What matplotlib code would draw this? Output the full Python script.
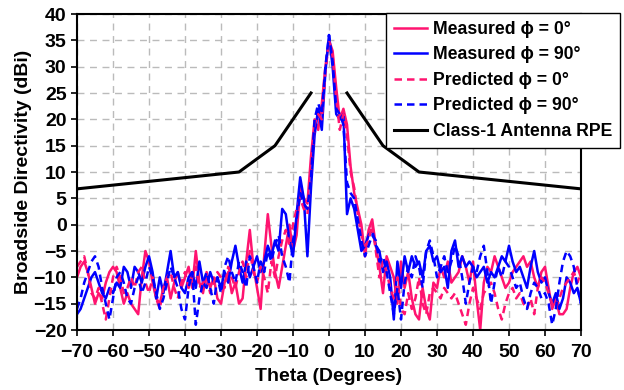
import numpy as np
import matplotlib
matplotlib.use("Agg")
import matplotlib.pyplot as plt

plt.rcParams['font.family'] = ['Liberation Sans', 'DejaVu Sans']
plt.rcParams['font.weight'] = 'bold'

# theta in degrees, 1 degree steps
theta = np.arange(-70, 71, 1)

meas_0 = [
    -10, -8, -7, -9, -12, -15, -13, -14, -11, -9,
    -8, -9, -12, -15, -13, -15, -16, -17, -10, -5,
    -7, -11, -14, -15, -12, -10, -14, -11, -9, -12,
    -10, -8, -12, -5, -11, -13, -9, -12, -10, -14,
    -15, -11, -9, -13, -11, -15, -14, -7, -1, -8,
    -12, -16, -6, 2, -4, -9, -12, -8, -4, 0,
    -5, -2, 7, 5, 4, 13, 20, 18, 23, 30,
    35, 33, 26, 20, 22, 19, 11, 6, 3, 0,
    -6, -1, 1, -4, -8, -13, -6, -8, -10, -15,
    -7, -12, -9, -14, -17, -18, -12, -16, -18, -11,
    -12, -8, -10, -7, -11, -10, -9, -6, -8, -11,
    -7, -14, -20, -11, -8, -9, -6, -8, -10, -12,
    -11, -9, -8, -7, -6, -8, -7, -10, -12, -9,
    -8, -12, -16, -14, -17, -17, -16, -12, -9, -8,
    -10]

meas_90 = [
    -17, -16, -14, -12, -10, -9, -11, -13, -14, -12,
    -13, -11, -12, -8, -9, -12, -8, -9, -11, -8,
    -6, -9, -14, -10, -13, -9, -5, -10, -9, -12,
    -13, -10, -9, -12, -7, -11, -12, -9, -11, -10,
    -12, -9, -11, -7, -4, -8, -11, -7, -10, -8,
    -6, -9, -7, -4, -6, -3, -5, 3, 2, -3,
    -6, 2, 9, 5, -6, 7, 17, 22, 18, 29,
    36, 30, 21, 20, 21, 2, 5, 3, -1, -5,
    -4, -2, -1, -4, -5, -9, -7, -10, -18, -7,
    -12, -6, -9, -6, -8, -7, -10, -5, -4, -7,
    -6, -9, -8, -12, -5, -3, -8, -6, -8, -7,
    -8, -10, -9, -8, -11, -9, -10, -8, -6, -7,
    -4, -7, -9, -8, -10, -12, -8, -5, -9, -11,
    -10, -13, -15, -13, -16, -14, -10, -11, -13, -12,
    -15]

pred_0 = [
    -8, -7, -6, -9, -13, -14, -12, -15, -18, -14,
    -10, -8, -10, -13, -12, -10, -12, -9, -8, -11,
    -13, -10, -14, -16, -12, -10, -9, -12, -14, -11,
    -9, -12, -10, -8, -12, -11, -10, -13, -11, -9,
    -10, -12, -8, -10, -12, -9, -7, -10, -5, -9,
    -11, -8, -10, -13, -7, -10, -6, -3, -1, -4,
    0, 3, 5, 3, 2, 10, 19, 21, 20, 29,
    35, 32, 24, 18, 21, 17, 10, 7, 2, -2,
    -4, -3, 0, -5, -10, -7, -9, -12, -14, -10,
    -16, -17, -13, -16, -14, -10, -15, -17, -13, -12,
    -13, -14, -12, -13, -14, -13, -15, -17, -19, -15,
    -12, -14, -16, -13, -12, -11, -13, -16, -18, -15,
    -13, -12, -14, -13, -15, -16, -14, -17, -12, -10,
    -11, -13, -15, -16, -14, -12, -11, -10, -9, -11,
    -9]

pred_90 = [
    -16, -14, -11, -9, -7, -6, -8, -12, -15, -18,
    -14, -10, -9, -11, -14, -15, -12, -10, -13, -11,
    -8, -10, -13, -16, -14, -11, -8, -10, -12, -16,
    -18, -12, -9, -19, -14, -11, -9, -12, -15, -10,
    -13, -8, -6, -9, -11, -7, -9, -12, -6, -8,
    -11, -7, -9, -5, -7, -4, -2, -6, -8, -11,
    -3, 1, 6, 4, 3, 9, 20, 23, 21, 30,
    36, 31, 22, 21, 19, 8, 6, 5, 1, -3,
    -6, -4, -2, -3, -7, -6, -9, -13, -17, -12,
    -18, -11, -8, -10, -6, -8, -12, -5, -3, -6,
    -10, -8, -6, -9, -7, -4, -6, -10, -15, -11,
    -8, -9, -6, -4, -9, -15, -11, -8, -10, -7,
    -8, -10, -12, -11, -14, -16, -13, -11, -12, -14,
    -13, -15, -19, -16, -11, -7, -5, -6, -8, -12,
    -15]

# Class-1 antenna radiation pattern envelope
rpe_theta_left = [-70, -25, -15, -5]
rpe_left = [6.8, 10, 15, 25]
rpe_theta_right = [5, 15, 25, 70]
rpe_right = [25, 15, 10, 6.8]

pink = '#FF1470'
blue = '#0000FF'

fig = plt.figure(figsize=(6.24, 3.9), dpi=100)
ax = fig.add_axes([0.1234, 0.1538, 0.8077, 0.8103])

lw = 1.8
ax.plot(theta, meas_0, color=pink, lw=lw, label='Measured \u03d5 = 0\u00b0')
ax.plot(theta, meas_90, color=blue, lw=lw, label='Measured \u03d5 = 90\u00b0')
ax.plot(theta, pred_0, color=pink, lw=lw, ls=(0, (3, 2)), label='Predicted \u03d5 = 0\u00b0')
ax.plot(theta, pred_90, color=blue, lw=lw, ls=(0, (3, 2)), label='Predicted \u03d5 = 90\u00b0')
ax.plot(rpe_theta_left, rpe_left, color='black', lw=2.2, label='Class-1 Antenna RPE')
ax.plot(rpe_theta_right, rpe_right, color='black', lw=2.2)

ax.set_xlim(-70, 70)
ax.set_ylim(-20, 40)
ax.set_xticks(np.arange(-70, 71, 10))
ax.set_yticks(np.arange(-20, 41, 5))
ax.grid(True, color='#BBBBBB', ls=(0, (5, 4)), lw=1.0)
ax.set_axisbelow(True)
for s in ax.spines.values():
    s.set_linewidth(1.5)
    s.set_color('black')
ax.tick_params(labelsize=14, width=1.2, length=4, direction='out')
ax.tick_params(axis='x', pad=6)
for lab in ax.get_xticklabels() + ax.get_yticklabels():
    lab.set_fontweight('bold')

ax.set_xlabel('Theta (Degrees)', fontsize=14, fontweight='bold', labelpad=5)
ax.set_ylabel('Broadside Directivity (dBi)', fontsize=14, fontweight='bold', labelpad=1)

leg = fig.legend(loc='upper right', bbox_to_anchor=(0.9936, 0.9667),
                 borderaxespad=0, fontsize=12.7, frameon=True, fancybox=False,
                 framealpha=1, edgecolor='black', handlelength=1.85,
                 borderpad=0.45, labelspacing=0.48, handletextpad=0.35)
leg.get_frame().set_linewidth(1.0)
for t in leg.get_texts():
    t.set_fontweight('bold')

fig.savefig('out.png', dpi=100)
